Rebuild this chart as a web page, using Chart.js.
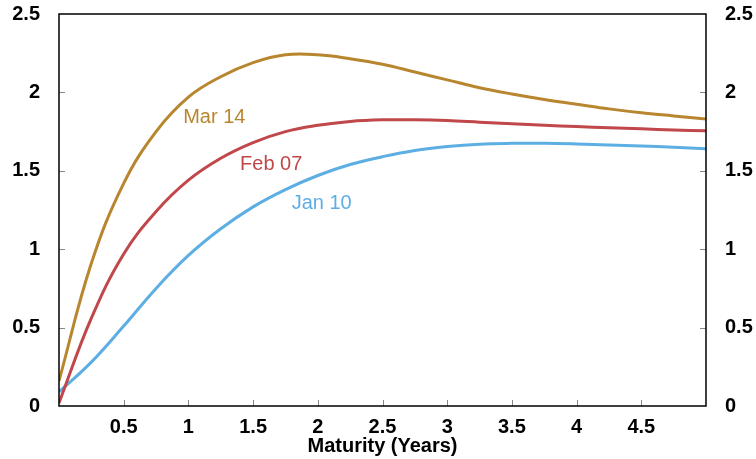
<!DOCTYPE html>
<html lang="en">
  <head>
    <meta charset="UTF-8" />
    <title>Yield curves</title>
    <script src="https://cdn.jsdelivr.net/npm/chart.js@4.4.1/dist/chart.umd.min.js"></script>
    <style>
      html, body { margin: 0; padding: 0; background: #fff; }
      #wrap { width: 756px; height: 459px; }
    </style>
  </head>
  <body>
    <div id="wrap"><canvas id="myChart"></canvas></div>

    <script>
      // maturities in years, yields
      const maturities = [0, 0.25, 0.5, 0.75, 1, 1.25, 1.5, 1.75, 2, 2.25, 2.5, 2.75, 3, 3.25, 3.5, 3.75, 4, 4.25, 4.5, 4.75, 5];
      const mar14 = [0.16, 0.91, 1.42, 1.75, 1.97, 2.10, 2.19, 2.24, 2.24, 2.215, 2.18, 2.13, 2.08, 2.03, 1.99, 1.955, 1.925, 1.895, 1.87, 1.85, 1.83];
      const feb07 = [0.02, 0.56, 0.97, 1.24, 1.44, 1.58, 1.68, 1.75, 1.79, 1.815, 1.825, 1.825, 1.82, 1.81, 1.80, 1.79, 1.782, 1.775, 1.768, 1.76, 1.755];
      const jan10 = [0.09, 0.28, 0.51, 0.75, 0.96, 1.13, 1.27, 1.38, 1.47, 1.54, 1.59, 1.63, 1.655, 1.67, 1.675, 1.675, 1.671, 1.665, 1.658, 1.65, 1.64];
      const seriesNames = ['Mar 14', 'Feb 07', 'Jan 10'];
      const xTickValues = [0.5, 1, 1.5, 2, 2.5, 3, 3.5, 4, 4.5];
      const yTickValues = [0, 0.5, 1, 1.5, 2, 2.5];

      // where the curve names sit (in data units)
      const nameAt = [[1.2, 1.84], [1.64, 1.54], [2.03, 1.29]];
      const colors = ['#B8862E', '#C0474A', '#5DAEE2'];

      const toPoints = ys => maturities.map((m, i) => ({ x: m, y: ys[i] }));
      const tickFont = { family: 'Liberation Sans, Arial, sans-serif', size: 20, weight: 'bold' };
      const plain = v => String(v);

      // fixed box sizes so the plot area lands where the reference has it
      const fitY = w => s => { s.width = w; s.paddingTop = 0; s.paddingBottom = 0; };

      const frame = {
        id: 'frame',
        afterDraw(chart) {
          const { ctx, chartArea: a, scales } = chart;
          ctx.save();
          // inward tick marks
          ctx.strokeStyle = '#888';
          ctx.lineWidth = 1;
          ctx.beginPath();
          xTickValues.forEach(v => {
            const px = Math.round(scales.x.getPixelForValue(v)) + 0.5;
            ctx.moveTo(px, a.bottom);
            ctx.lineTo(px, a.bottom - 6);
          });
          yTickValues.slice(1, -1).forEach(v => {
            const py = Math.round(scales.y.getPixelForValue(v)) + 0.5;
            ctx.moveTo(a.left, py);
            ctx.lineTo(a.left + 6, py);
            ctx.moveTo(a.right, py);
            ctx.lineTo(a.right - 6, py);
          });
          ctx.stroke();
          // box
          ctx.strokeStyle = '#000';
          ctx.lineWidth = 1.5;
          ctx.strokeRect(a.left, a.top, a.right - a.left, a.bottom - a.top);
          // curve names
          ctx.font = '20px "Liberation Sans", Arial, sans-serif';
          ctx.textAlign = 'center';
          ctx.textBaseline = 'middle';
          nameAt.forEach((p, i) => {
            ctx.fillStyle = colors[i];
            ctx.fillText(seriesNames[i], scales.x.getPixelForValue(p[0]), scales.y.getPixelForValue(p[1]));
          });
          ctx.restore();
        }
      };

      const ctx = document.getElementById('myChart').getContext('2d');
      const myChart = new Chart(ctx, {
        type: 'line',
        data: {
          datasets: [
            { label: seriesNames[0], data: toPoints(mar14), borderColor: colors[0] },
            { label: seriesNames[1], data: toPoints(feb07), borderColor: colors[1] },
            { label: seriesNames[2], data: toPoints(jan10), borderColor: colors[2] }
          ]
        },
        options: {
          responsive: true,
          maintainAspectRatio: false,
          animation: false,
          layout: { padding: { top: 14, left: 0, right: 0, bottom: 0 } },
          elements: {
            point: { radius: 0 },
            line: { borderWidth: 3, fill: false, tension: 0.4 }
          },
          plugins: { legend: { display: false }, tooltip: { enabled: false } },
          scales: {
            x: {
              type: 'linear',
              min: 0,
              max: 5,
              grid: { display: false },
              border: { display: false },
              afterBuildTicks: s => { s.ticks = xTickValues.map(v => ({ value: v })); },
              afterFit: s => { s.height = 53; s.paddingLeft = 0; s.paddingRight = 0; },
              ticks: { color: '#000', font: tickFont, padding: 1, maxRotation: 0, autoSkip: false, callback: plain },
              title: { display: true, text: 'Maturity (Years)', color: '#000', font: tickFont, padding: { top: 0, bottom: 1 } }
            },
            y: {
              position: 'left',
              min: 0,
              max: 2.5,
              grid: { display: false },
              border: { display: false },
              afterBuildTicks: s => { s.ticks = yTickValues.map(v => ({ value: v })); },
              afterFit: fitY(59),
              ticks: { color: '#000', font: tickFont, padding: 11, callback: plain }
            },
            y2: {
              position: 'right',
              min: 0,
              max: 2.5,
              grid: { display: false },
              border: { display: false },
              afterBuildTicks: s => { s.ticks = yTickValues.map(v => ({ value: v })); },
              afterFit: fitY(50),
              ticks: { color: '#000', font: tickFont, padding: 11, callback: plain }
            }
          }
        },
        plugins: [frame]
      });
    </script>
  </body>
</html>
